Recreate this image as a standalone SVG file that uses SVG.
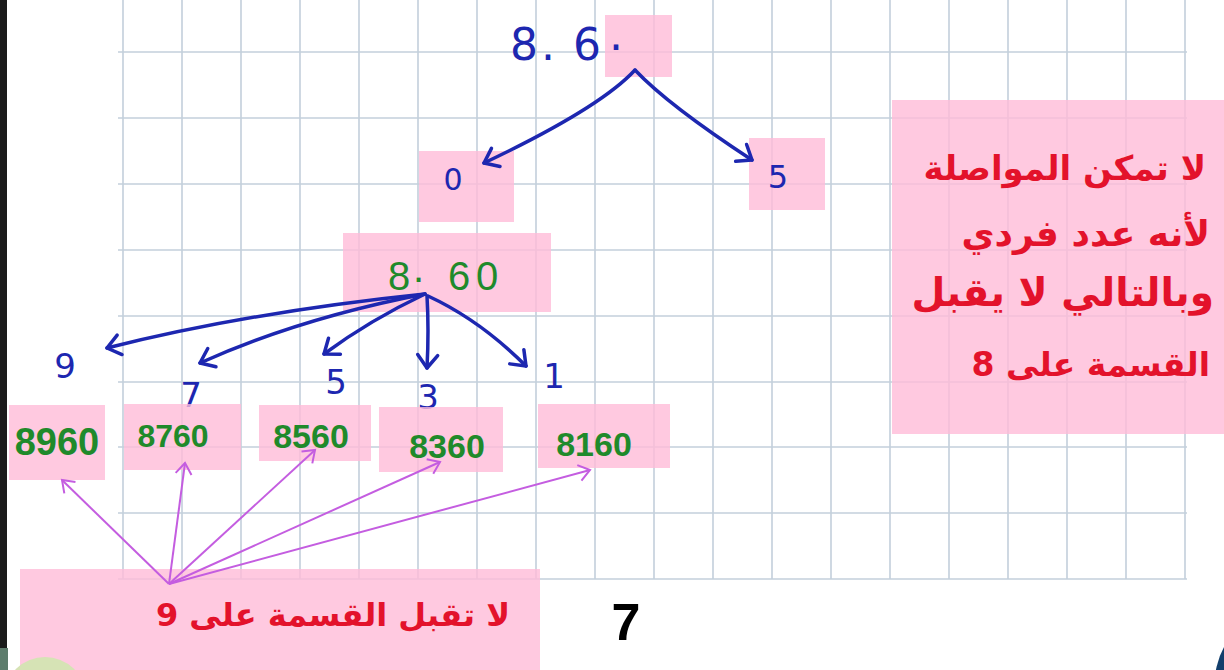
<svg xmlns="http://www.w3.org/2000/svg" width="1224" height="670" viewBox="0 0 1224 670">
<style>
.grid{stroke:#c3cfdb;stroke-width:1.6;fill:none}
.box{fill:#ffbcd8;opacity:0.8}
.blue{fill:#1d27b0;font-family:"DejaVu Sans",sans-serif}
.green{fill:#1f8a2b;font-family:"Liberation Sans",sans-serif;font-weight:bold}
.red{fill:#e3122b;font-family:"DejaVu Sans",sans-serif;font-weight:bold;text-anchor:end}
.ba{stroke:#1d27b0;stroke-width:3.5;fill:none;stroke-linecap:round;marker-end:url(#bh)}
.va{stroke:#c45de0;stroke-width:2;fill:none;marker-end:url(#vh)}
</style>
<defs>
<marker id="bh" markerUnits="userSpaceOnUse" markerWidth="30" markerHeight="30" refX="0" refY="0" viewBox="-16 -15 20 30" orient="auto">
<path d="M-13,-10 L0,0 L-13,10" fill="none" stroke="#1d27b0" stroke-width="3.5" stroke-linecap="round" stroke-linejoin="round"/>
</marker>
<marker id="vh" markerUnits="userSpaceOnUse" markerWidth="24" markerHeight="24" refX="0" refY="0" viewBox="-14 -12 18 24" orient="auto">
<path d="M-11,-8 L0,0 L-11,8" fill="none" stroke="#c45de0" stroke-width="2"/>
</marker>
</defs>
<rect width="1224" height="670" fill="#ffffff"/>
<rect x="0" y="0" width="7" height="670" fill="#1b1b1b"/>
<g id="grid" class="grid">
<path d="M123,0V579M182,0V579M241,0V579M300,0V579M359,0V579M418,0V579M477,0V579M536,0V579M595,0V579M654,0V579M713,0V579M772,0V579M831,0V579M890,0V579M949,0V579M1008,0V579M1067,0V579M1126,0V579M1185,0V579"/>
<path d="M118,52H1187M118,118H1187M118,184H1187M118,250H1187M118,316H1187M118,382H1187M118,447H1187M118,513H1187M118,579H1187"/>
</g>
<g id="n-top">
<rect class="box" x="605" y="15" width="67" height="62"/>
<text class="blue" font-size="44" y="60"><tspan x="510">8</tspan><tspan x="541">.</tspan><tspan x="573">6</tspan><tspan x="609" dy="-10">.</tspan></text>
</g>
<g id="n-0">
<rect class="box" x="419" y="151" width="95" height="71"/>
<text class="blue" font-size="30" x="453" y="190" text-anchor="middle">0</text>
</g>
<g id="n-5">
<rect class="box" x="749" y="138" width="76" height="72"/>
<text class="blue" font-size="32" x="778" y="188" text-anchor="middle">5</text>
</g>
<g id="n-860">
<rect class="box" x="343" y="233" width="208" height="79"/>
<text class="green" font-size="40" y="290" style="font-weight:normal"><tspan x="388">8</tspan><tspan x="413" dy="-8">.</tspan><tspan x="448" dy="8">6</tspan><tspan x="476">0</tspan></text>
</g>
<g id="d-9"><text class="blue" font-size="34" x="65" y="378" text-anchor="middle">9</text></g>
<g id="d-7"><text class="blue" font-size="34" x="191" y="407" text-anchor="middle">7</text></g>
<g id="d-5"><text class="blue" font-size="34" x="336" y="394" text-anchor="middle">5</text></g>
<g id="d-3"><text class="blue" font-size="34" x="428" y="409" text-anchor="middle">3</text></g>
<g id="d-1"><text class="blue" font-size="34" x="554" y="388" text-anchor="middle">1</text></g>
<g id="r-8960">
<rect class="box" x="9" y="405" width="96" height="75"/>
<text class="green" font-size="38" x="57" y="455" text-anchor="middle">8960</text>
</g>
<g id="r-8760">
<rect class="box" x="124" y="404" width="117" height="66"/>
<text class="green" font-size="32" x="173" y="447" text-anchor="middle">8760</text>
</g>
<g id="r-8560">
<rect class="box" x="259" y="405" width="112" height="56"/>
<text class="green" font-size="34" x="311" y="448" text-anchor="middle">8560</text>
</g>
<g id="r-8360">
<rect class="box" x="379" y="407" width="124" height="65"/>
<text class="green" font-size="34" x="447" y="458" text-anchor="middle">8360</text>
</g>
<g id="r-8160">
<rect class="box" x="538" y="404" width="132" height="64"/>
<text class="green" font-size="34" x="594" y="456" text-anchor="middle">8160</text>
</g>
<g id="note-right">
<rect class="box" x="892" y="100" width="332" height="334"/>
<text class="red" font-size="34" x="1206" y="180">لا تمكن المواصلة</text>
<text class="red" font-size="36" x="1210" y="246">لأنه عدد فردي</text>
<text class="red" font-size="39" x="1214" y="306">وبالتالي لا يقبل</text>
<text class="red" font-size="33" x="1210" y="376">القسمة على 8</text>
</g>
<g id="note-bottom">
<rect class="box" x="20" y="569" width="520" height="101"/>
<text class="red" font-size="32" x="510" y="626">لا تقبل القسمة على 9</text>
</g>
<g id="connectors">
<path class="ba" d="M635,70 Q600,108 484,163"/>
<path class="ba" d="M635,70 Q668,105 752,160"/>
<path class="ba" d="M425,294 Q250,312 107,348"/>
<path class="ba" d="M425,294 Q300,318 200,363"/>
<path class="ba" d="M425,294 Q370,320 324,354"/>
<path class="ba" d="M427,296 Q429,330 427,368"/>
<path class="ba" d="M428,296 Q480,320 526,366"/>
<path class="va" d="M169,584 L62,480"/>
<path class="va" d="M169,584 L185,463"/>
<path class="va" d="M169,584 L315,450"/>
<path class="va" d="M169,584 L440,462"/>
<path class="va" d="M169,584 L590,470"/>
</g>
<text x="626" y="640" font-family="Liberation Sans,sans-serif" font-weight="bold" font-size="52" fill="#000" text-anchor="middle">7</text>
<ellipse cx="45" cy="695" rx="40" ry="38" fill="#d6e3b5"/>
<rect x="0" y="648" width="8" height="22" fill="#5d7c6c"/>
<ellipse cx="1250" cy="690" rx="36" ry="62" fill="#123f6c"/>
</svg>
